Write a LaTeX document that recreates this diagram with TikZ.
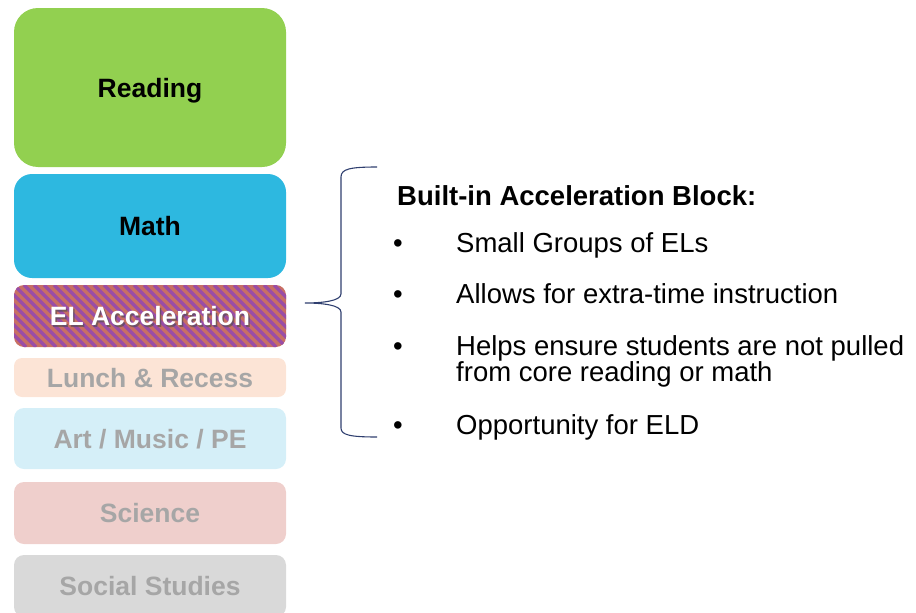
\documentclass[tikz,border=0pt]{standalone}
\usepackage{fontspec}
\setmainfont{Liberation Sans}
\usepackage{tikz}
\usetikzlibrary{positioning}

\definecolor{readgreen}{HTML}{92D050}
\definecolor{mathblue}{HTML}{2DB8E0}
\definecolor{elsalmon}{HTML}{C86F64}
\definecolor{elpurple}{HTML}{9A4DA6}
\definecolor{lunchpeach}{HTML}{FCE4D6}
\definecolor{artcyan}{HTML}{D5EFF8}
\definecolor{scirose}{HTML}{EFCFCC}
\definecolor{socgray}{HTML}{D9D9D9}
\definecolor{fadedtext}{HTML}{A6A6A6}
\definecolor{bracenavy}{HTML}{2F3F6F}

\begin{document}
\begin{tikzpicture}[x=1pt,y=-1pt,node distance=7pt]
		\tikzstyle{block}=[minimum width=272pt,inner sep=0pt,outer sep=0pt,rounded corners=10pt,text depth=0pt,
			font=\fontsize{26.5}{30}\selectfont\bfseries]
		\tikzstyle{faded}=[block,text=fadedtext]
		\tikzstyle{point}=[anchor=base west,inner sep=0pt,font=\fontsize{27.5}{32}\selectfont]
		\tikzstyle{brace}=[draw=bracenavy,line width=1.1pt]
		
		\useasboundingbox (0,0) rectangle (916,613);
		
		% schedule column
		\node[block,fill=readgreen,minimum height=159pt,rounded corners=24pt] (reading) at (150,87.5) {Reading};
		\node[block,fill=mathblue,minimum height=104pt,rounded corners=18pt] (math) [below=of reading] {Math};
		\node[block,fill=elsalmon,minimum height=62pt,
			path picture={
				\foreach \k in {-7,...,28}
				\draw[elpurple,line width=3.2pt] ([xshift=\k*10pt]path picture bounding box.north west) -- ++(62pt,-62pt);
			}] (el) [below=of math] {};
		\node[block,text=black!70,opacity=0.6,text opacity=0.6] (elshadow) at ([xshift=1.5pt,yshift=-1.5pt]el.center) {EL Acceleration};
		\node[block,text=white] (ellabel) at (el.center) {EL Acceleration};
		\node[faded,fill=lunchpeach,minimum height=39pt,rounded corners=8pt] (lunch) [below=11pt of el] {Lunch \& Recess};
		\node[faded,fill=artcyan,minimum height=61pt] (art) [below=11pt of lunch] {Art / Music / PE};
		\node[faded,fill=scirose,minimum height=62pt] (science) [below=13pt of art] {Science};
		\node[faded,fill=socgray,minimum height=62pt] (social) [below=11pt of science] {Social Studies};
		
		% brace
		\coordinate (btop) at (377,167);
		\coordinate (btip) at (305,303);
		\coordinate (bbot) at (377,437);
		\draw[brace] (btop) .. controls (350,167) and (341,169) .. (341,177) -- (341,294)
			.. controls (341,301) and (322,303) .. (btip)
			.. controls (322,303) and (341,305) .. (341,312) -- (341,428)
			.. controls (341,435) and (350,437) .. (bbot);
		
		% acceleration block notes
		\node[point,font=\fontsize{27.5}{32}\selectfont\bfseries] (title) at (397,205) {Built-in Acceleration Block:};
		\foreach \y/\name/\txt in {252/small/Small Groups of ELs,303/allows/Allows for extra-time instruction,
			355/helps/Helps ensure students are not pulled,434/opportunity/Opportunity for ELD}{
			\node[point] (\name) at (456,\y) {\txt};
			\node[point] (dot\name) at (393,\y) {•};
		}
		\node[point] (helpsb) at (456,381) {from core reading or math};
	
	\end{tikzpicture}
\end{document}
